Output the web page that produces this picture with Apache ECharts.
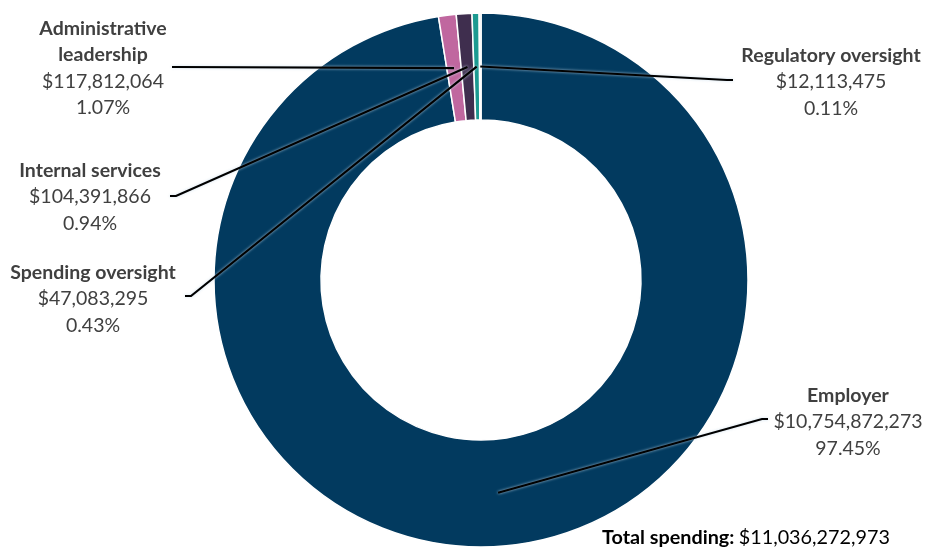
<!DOCTYPE html>
<html>
<head>
<meta charset="utf-8">
<script src="https://cdn.jsdelivr.net/npm/echarts@6/dist/echarts.min.js"></script>
<style>
  html, body { margin: 0; padding: 0; background: #fff; }
  #chart { width: 936px; height: 553px; }
</style>
</head>
<body>
<div id="chart"></div>
<script>
const categories = ['Employer', 'Administrative leadership', 'Internal services', 'Spending oversight', 'Regulatory oversight']
const labelNames = ['Employer', 'Administrative\nleadership', 'Internal services', 'Spending oversight', 'Regulatory oversight']
const spending = [10754872273, 117812064, 104391866, 47083295, 12113475]
const pctLabels = ['97.45%', '1.07%', '0.94%', '0.43%', '0.11%']
const totalSpending = 11036272973
const colors = ['#023a5f', '#c0679f', '#3f2e4e', '#1c9a91', '#d9dde0']

// where each label sits (center) and where its leader line attaches
const labelPos = [[848, 422], [103, 68], [90, 197], [93, 299], [831, 82]]
const lineEnd = [[768, 419], [172, 67], [170, 196], [185, 296], [733, 80]]

const cx = 481, cy = 280, rIn = 160, rOut = 267
const fmt = v => '$' + v.toLocaleString('en-US')

const chart = echarts.init(document.getElementById('chart'))

const total = spending.reduce((a, b) => a + b, 0)
const leaderLines = []
let cum = 0
spending.forEach((v, i) => {
  const a = 2 * Math.PI * (cum + v / 2) / total
  cum += v
  const rm = (rIn + rOut) / 2
  const px = cx + rm * Math.sin(a)
  const py = cy - rm * Math.cos(a)
  const [ex, ey] = lineEnd[i]
  const dx = ex < cx ? 6 : -6
  leaderLines.push({
    type: 'polyline',
    z: 100,
    shape: { points: [[ex, ey], [ex + dx, ey], [px, py]] },
    style: {
      stroke: '#000',
      lineWidth: 2.2,
      fill: null,
      shadowColor: 'rgba(200,220,235,0.9)',
      shadowBlur: 3
    }
  })
})

const option = {
  animation: false,
  textStyle: { fontFamily: 'Lato' },
  title: {
    text: '{b|Total spending:} {v|' + fmt(totalSpending) + '}',
    left: 597,
    top: 523,
    textStyle: {
      rich: {
        b: { fontFamily: 'Lato', fontWeight: 'bold', fontSize: 19.8, color: '#000' },
        v: { fontFamily: 'Lato', fontWeight: 'normal', fontSize: 19.8, color: '#000' }
      }
    }
  },
  graphic: leaderLines,
  series: [
    {
      type: 'pie',
      center: [cx, cy],
      radius: [rIn, rOut],
      startAngle: 90,
      clockwise: true,
      avoidLabelOverlap: false,
      itemStyle: { borderColor: '#fff', borderWidth: 1.5 },
      label: {
        show: true,
        position: 'outside',
        align: 'center',
        lineHeight: 26.5,
        formatter: p => '{n|' + labelNames[p.dataIndex] + '}\n{v|' + fmt(p.value) + '}\n{v|' + pctLabels[p.dataIndex] + '}',
        rich: {
          n: { fontFamily: 'Lato', fontWeight: 'bold', fontSize: 19.5, color: '#404040', lineHeight: 26.5, align: 'center' },
          v: { fontFamily: 'Lato', fontSize: 19.5, color: '#404040', lineHeight: 26.5, align: 'center' }
        }
      },
      labelLine: { show: false },
      labelLayout: p => ({
        x: labelPos[p.dataIndex][0],
        y: labelPos[p.dataIndex][1],
        align: 'center',
        verticalAlign: 'middle'
      }),
      emphasis: { disabled: true },
      data: categories.map((c, i) => ({
        name: c,
        value: spending[i],
        itemStyle: { color: colors[i] }
      }))
    }
  ]
}

chart.setOption(option)
</script>
</body>
</html>
